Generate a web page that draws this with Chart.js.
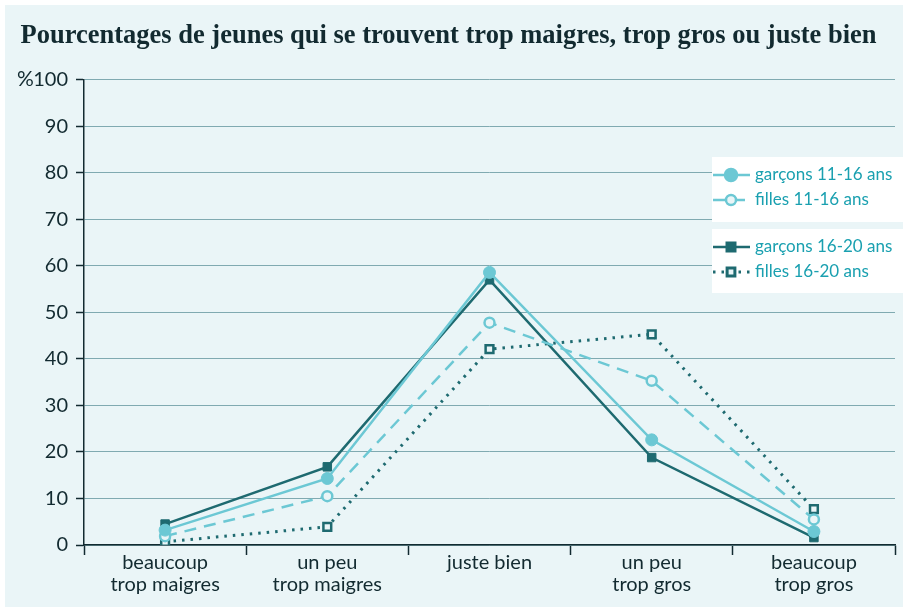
<!DOCTYPE html>
<html>
<head>
<meta charset="utf-8">
<script src="https://cdn.jsdelivr.net/npm/chart.js@4"></script>
<style>
  html, body { margin: 0; padding: 0; background: #fff; }
  #wrap { width: 903px; height: 612px; }
</style>
</head>
<body>
<div id="wrap"><canvas id="graphique"></canvas></div>
<script>
// categories
const categories = [
  ["beaucoup", "trop maigres"],
  ["un peu", "trop maigres"],
  "juste bien",
  ["un peu", "trop gros"],
  ["beaucoup", "trop gros"]
];
// valeurs (%)
const garcons1116 = [3.2, 14.3, 58.6, 22.6, 2.9];
const filles1116 = [1.9, 10.5, 47.8, 35.3, 5.5];
const garcons1620 = [4.5, 16.8, 57.0, 18.8, 1.6];
const filles1620 = [0.7, 3.9, 42.1, 45.3, 7.7];
const yTicks = [0, 10, 20, 30, 40, 50, 60, 70, 80, 90, 100];

const clair = "#6cc8d4";
const fonce = "#1e6a70";
const fond = "#eaf5f7";
const texte = "#122a30";
const police = "'Liberation Sans Narrow', Lato, sans-serif";

const fondPlugin = {
  id: "fond",
  beforeDraw(chart) {
    const ctx = chart.ctx;
    ctx.save();
    ctx.fillStyle = "#fff";
    ctx.fillRect(0, 0, chart.width, chart.height);
    ctx.fillStyle = fond;
    ctx.fillRect(5, 5, chart.width - 5, 602);
    ctx.restore();
  },
  afterDraw(chart) {
    const ctx = chart.ctx;
    const y = chart.scales.y;
    ctx.save();
    // signe %
    ctx.fillStyle = texte;
    ctx.font = "21px " + police;
    ctx.textAlign = "left";
    ctx.textBaseline = "middle";
    ctx.fillText("%", 17, y.getPixelForValue(100) - 1);
    // légende en deux boîtes
    ctx.fillStyle = "#fff";
    ctx.fillRect(712, 157, 191, 65);
    ctx.fillRect(712, 229, 191, 64);
    const rows = [175, 200, 247, 272];
    chart.data.datasets.forEach((ds, i) => {
      const yy = rows[i];
      ctx.save();
      ctx.strokeStyle = ds.borderColor;
      ctx.lineWidth = ds.borderWidth;
      ctx.setLineDash(ds.borderDash || []);
      ctx.beginPath();
      ctx.moveTo(713, yy);
      ctx.lineTo(750, yy);
      ctx.stroke();
      ctx.setLineDash([]);
      ctx.fillStyle = ds.pointBackgroundColor;
      ctx.strokeStyle = ds.pointBorderColor;
      Chart.helpers.drawPoint(ctx, {
        pointStyle: ds.pointStyle,
        radius: ds.pointRadius,
        rotation: 0,
        borderWidth: ds.pointBorderWidth
      }, 731, yy);
      ctx.restore();
      ctx.fillStyle = "#1aa0b0";
      ctx.font = "17px " + police;
      ctx.textBaseline = "middle";
      ctx.fillText(ds.label, 755, yy);
    });
    ctx.restore();
  }
};

new Chart(document.getElementById("graphique"), {
  type: "line",
  data: {
    labels: categories,
    datasets: [
      {
        label: "garçons 11-16 ans",
        data: garcons1116,
        borderColor: clair,
        borderWidth: 2.5,
        pointStyle: "circle",
        pointRadius: 6,
        pointBackgroundColor: clair,
        pointBorderColor: clair,
        pointBorderWidth: 1
      },
      {
        label: "filles 11-16 ans",
        data: filles1116,
        borderColor: clair,
        borderWidth: 2.5,
        borderDash: [12, 8],
        pointStyle: "circle",
        pointRadius: 5,
        pointBackgroundColor: fond,
        pointBorderColor: clair,
        pointBorderWidth: 2.5
      },
      {
        label: "garçons 16-20 ans",
        data: garcons1620,
        borderColor: fonce,
        borderWidth: 2.5,
        pointStyle: "rect",
        pointRadius: 6,
        pointBackgroundColor: fonce,
        pointBorderColor: fonce,
        pointBorderWidth: 1
      },
      {
        label: "filles 16-20 ans",
        data: filles1620,
        borderColor: fonce,
        borderWidth: 3,
        borderDash: [2.5, 6],
        pointStyle: "rect",
        pointRadius: 5.5,
        pointBackgroundColor: fond,
        pointBorderColor: fonce,
        pointBorderWidth: 2.5
      }
    ]
  },
  options: {
    responsive: true,
    maintainAspectRatio: false,
    animation: false,
    devicePixelRatio: 1,
    layout: { padding: { left: 0, right: 6, top: 0, bottom: 0 } },
    elements: { line: { tension: 0 } },
    plugins: {
      legend: { display: false },
      tooltip: { enabled: false },
      title: {
        display: true,
        text: "Pourcentages de jeunes qui se trouvent trop maigres, trop gros ou juste bien",
        color: texte,
        font: { family: "'Liberation Serif', serif", size: 26.5, weight: "bold" },
        padding: { top: 20, bottom: 28 }
      }
    },
    scales: {
      x: {
        offset: true,
        grid: {
          offset: true,
          drawOnChartArea: false,
          drawTicks: true,
          tickLength: 10,
          tickColor: texte,
          tickWidth: 1.5
        },
        border: { color: texte, width: 1.5 },
        ticks: {
          color: texte,
          font: { family: police, size: 20, lineHeight: 1.08 },
          padding: -3,
          maxRotation: 0,
          autoSkip: false
        },
        afterFit(scale) { scale.height = 67; }
      },
      y: {
        min: 0,
        max: 100,
        afterBuildTicks(scale) { scale.ticks = yTicks.map(v => ({ value: v })); },
        grid: {
          color: "#80aab1",
          lineWidth: 1,
          tickLength: 8,
          tickColor: texte,
          tickWidth: 1.5
        },
        border: { color: texte, width: 1.5 },
        ticks: {
          color: texte,
          font: { family: police, size: 20 },
          padding: 8
        },
        afterFit(scale) { scale.width = 84; }
      }
    }
  },
  plugins: [fondPlugin]
});
</script>
</body>
</html>
